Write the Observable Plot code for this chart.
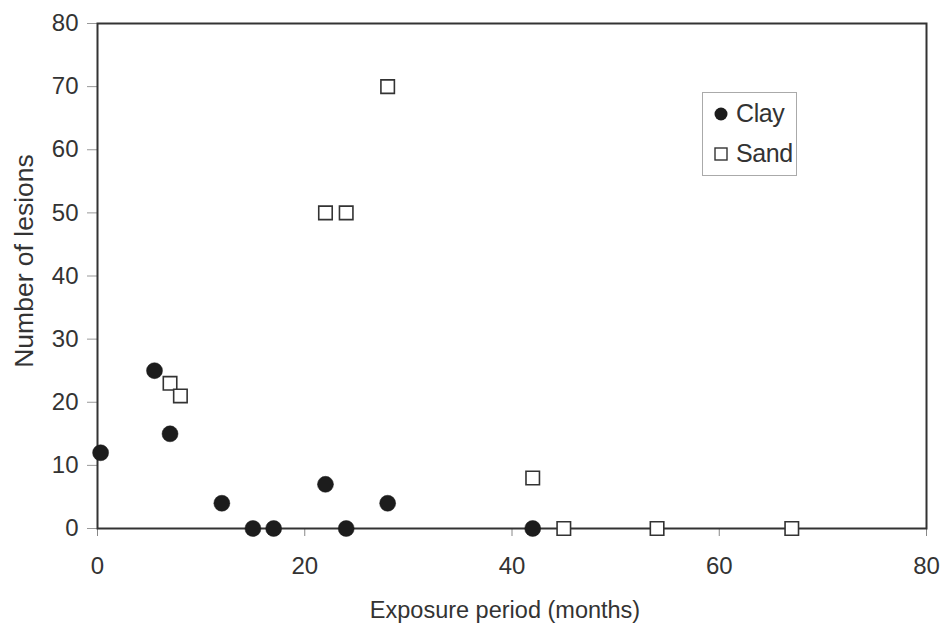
<!DOCTYPE html>
<html>
<head>
<meta charset="utf-8">
<script src="https://cdn.jsdelivr.net/npm/d3@7"></script>
<script src="https://cdn.jsdelivr.net/npm/@observablehq/plot@0.6"></script>
<style>
  html, body { margin: 0; padding: 0; background: #fff; }
  #wrap { position: relative; width: 942px; height: 628px; font-family: "Liberation Sans", Arial, sans-serif; }
  #legend { position: absolute; left: 702px; top: 92px; width: 95px; height: 84px; border: 1px solid #aaa; box-sizing: border-box; background: #fff; }
  .item { position: absolute; left: 11px; display: flex; align-items: center; font-size: 25px; color: #333; letter-spacing: -0.4px; }
  .item svg { margin-right: 8px; }
</style>
</head>
<body>
<div id="wrap"></div>
<script>
// Data
const clayMonths  = [0.3, 5.5, 7, 12, 15, 17, 22, 24, 28, 42];
const clayLesions = [12, 25, 15, 4, 0, 0, 7, 0, 4, 0];
const sandMonths  = [7, 8, 22, 24, 28, 42, 45, 54, 67];
const sandLesions = [23, 21, 50, 50, 70, 8, 0, 0, 0];
const xTicks = [0, 20, 40, 60, 80];
const yTicks = [0, 10, 20, 30, 40, 50, 60, 70, 80];
const seriesNames = ["Clay", "Sand"];
const xTitle = "Exposure period (months)";
const yTitle = "Number of lesions";

const clay = clayMonths.map((m, i) => ({months: m, lesions: clayLesions[i]}));
const sand = sandMonths.map((m, i) => ({months: m, lesions: sandLesions[i]}));

const chart = Plot.plot({
  width: 942,
  height: 628,
  marginLeft: 97,
  marginRight: 16,
  marginTop: 23,
  marginBottom: 100,
  style: {fontFamily: "'Liberation Sans', Arial, sans-serif", background: "#fff", color: "#333"},
  x: {domain: [0, 80]},
  y: {domain: [0, 80]},
  marks: [
    Plot.axisY({ticks: yTicks, tickSize: 10, tickPadding: 9, fontSize: 24, stroke: "#999", label: null}),
    Plot.axisX({ticks: xTicks, tickSize: 8, tickPadding: 20, fontSize: 24, stroke: "#888", label: null}),
    Plot.text([yTitle], {text: d => d, frameAnchor: "left", rotate: -90, dx: -73, dy: -15,
      fontSize: 26.5, fill: "#333", textAnchor: "middle", lineAnchor: "middle"}),
    Plot.text([xTitle], {text: d => d, frameAnchor: "bottom", dx: -7, dy: 82,
      fontSize: 23.5, fill: "#333", textAnchor: "middle", lineAnchor: "middle"}),
    Plot.frame({stroke: "#333", strokeWidth: 2}),
    Plot.dot(clay, {x: "months", y: "lesions", r: 8, fill: "#1c1c1c", stroke: "#1c1c1c", strokeWidth: 0.5, symbol: "circle"}),
    Plot.dot(sand, {x: "months", y: "lesions", r: 7.6, fill: "#fff", stroke: "#333", strokeWidth: 1.6, symbol: "square"})
  ]
});
const wrap = document.getElementById("wrap");
wrap.appendChild(chart);

// Legend
const legend = document.createElement("div");
legend.id = "legend";
const sym = {
  Clay: '<svg width="14" height="14"><circle cx="7" cy="7" r="6.5" fill="#1c1c1c"/></svg>',
  Sand: '<svg width="14" height="14"><rect x="1" y="1" width="12" height="12" fill="#fff" stroke="#333" stroke-width="1.4"/></svg>'
};
seriesNames.forEach((name, i) => {
  const it = document.createElement("div");
  it.className = "item";
  it.style.top = (i === 0 ? 6 : 46) + "px";
  it.innerHTML = sym[name] + "<span>" + name + "</span>";
  legend.appendChild(it);
});
wrap.appendChild(legend);
</script>
</body>
</html>
